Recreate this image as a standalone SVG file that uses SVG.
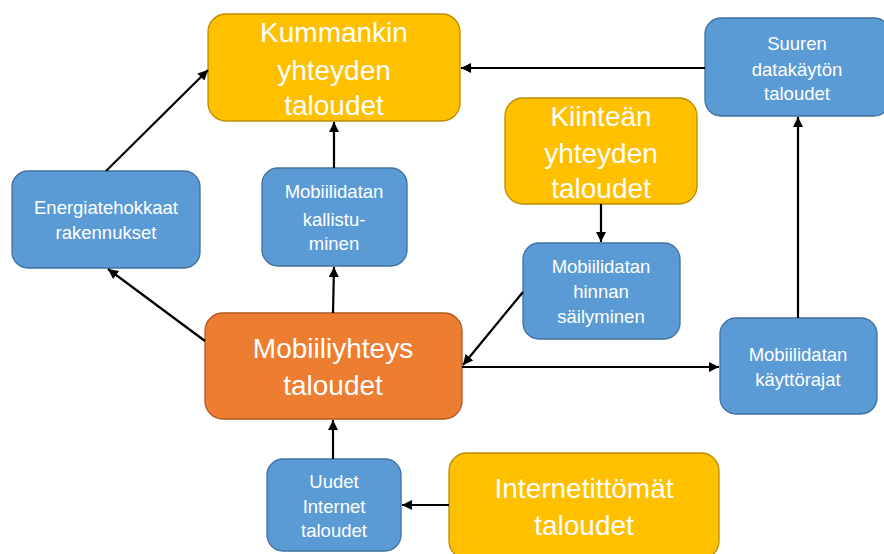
<svg xmlns="http://www.w3.org/2000/svg" width="884" height="554" viewBox="0 0 884 554">
<defs>
<marker id="ah" viewBox="0 0 10 10" refX="10" refY="5" markerWidth="12" markerHeight="10" markerUnits="userSpaceOnUse" orient="auto">
<path d="M0,0 L10,5 L0,10 z" fill="#000"/>
</marker>
<style>
.y{fill:#FFC000;stroke:#BC8C00;stroke-width:1.3}
.b{fill:#5B9BD5;stroke:#41719C;stroke-width:1.3}
.o{fill:#ED7D31;stroke:#AE5A21;stroke-width:1.3}
text{font-family:"Liberation Sans",Arial,sans-serif;fill:#fff;text-anchor:middle}
.L{font-size:28px}
.S{font-size:18.5px}
.c line{stroke:#000;stroke-width:2.2;marker-end:url(#ah)}
</style>
</defs>
<rect width="884" height="554" fill="#fff"/>
<g id="kummankin"><rect class="y" x="208" y="14" width="252" height="107" rx="18"/>
<text class="L" x="334" y="42">Kummankin</text><text class="L" x="334" y="80">yhteyden</text><text class="L" x="334" y="115">taloudet</text></g>
<g id="suuren"><rect class="b" x="705" y="18" width="185" height="98" rx="16"/>
<text class="S" x="797" y="50">Suuren</text><text class="S" x="797" y="76">datakäytön</text><text class="S" x="797" y="100">taloudet</text></g>
<g id="energia"><rect class="b" x="12" y="171" width="188" height="97" rx="16"/>
<text class="S" x="106" y="214">Energiatehokkaat</text><text class="S" x="106" y="239">rakennukset</text></g>
<g id="kallistuminen"><rect class="b" x="262" y="168" width="145" height="98" rx="16"/>
<text class="S" x="334" y="198">Mobiilidatan</text><text class="S" x="334" y="226">kallistu-</text><text class="S" x="334" y="250">minen</text></g>
<g id="kiintean"><rect class="y" x="505" y="98" width="192" height="106" rx="18"/>
<text class="L" x="601" y="126">Kiinteän</text><text class="L" x="601" y="163">yhteyden</text><text class="L" x="601" y="198">taloudet</text></g>
<g id="hinnan"><rect class="b" x="523" y="243" width="157" height="96" rx="16"/>
<text class="S" x="601" y="273">Mobiilidatan</text><text class="S" x="601" y="298">hinnan</text><text class="S" x="601" y="323">säilyminen</text></g>
<g id="kayttorajat"><rect class="b" x="720" y="318" width="157" height="96" rx="16"/>
<text class="S" x="798" y="361">Mobiilidatan</text><text class="S" x="798" y="386">käyttörajat</text></g>
<g id="mobiiliyhteys"><rect class="o" x="205" y="313" width="257" height="106" rx="18"/>
<text class="L" x="333" y="358">Mobiiliyhteys</text><text class="L" x="333" y="395">taloudet</text></g>
<g id="uudet"><rect class="b" x="267" y="459" width="134" height="92" rx="16"/>
<text class="S" x="334" y="488">Uudet</text><text class="S" x="334" y="513">Internet</text><text class="S" x="334" y="537">taloudet</text></g>
<g id="internetittomat"><rect class="y" x="449" y="453" width="270" height="106" rx="18"/>
<text class="L" x="584" y="498">Internetittömät</text><text class="L" x="584" y="535">taloudet</text></g>
<g class="c" id="connectors">
<line x1="705" y1="68" x2="461" y2="68"/>
<line x1="334" y1="168" x2="334" y2="122"/>
<line x1="106" y1="171" x2="208" y2="70"/>
<line x1="205" y1="341" x2="108" y2="269"/>
<line x1="333" y1="313" x2="334" y2="267"/>
<line x1="601" y1="204" x2="601" y2="242"/>
<line x1="523" y1="292" x2="463" y2="365"/>
<line x1="462" y1="367" x2="719" y2="367"/>
<line x1="798" y1="318" x2="798" y2="117"/>
<line x1="333" y1="459" x2="333" y2="420"/>
<line x1="449" y1="505" x2="402" y2="505"/>
</g>
</svg>
